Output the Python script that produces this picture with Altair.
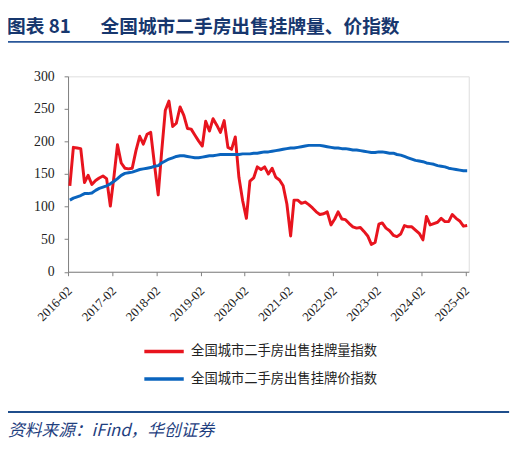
import altair as alt
import pandas as pd

# ---- data ----
months = pd.date_range("2016-02-01", "2025-02-01", freq="MS")
dates = [(d + pd.Timedelta(days=15)).strftime("%Y-%m-%d") for d in months]

volume_index = [
    132, 191, 190, 189, 137, 148, 134, 140, 144, 147,
    143, 101, 148, 195, 167, 159, 158, 159, 186, 208,
    196, 211, 214, 165, 118, 183, 248, 262, 223, 228,
    253, 240, 220, 219, 210, 201, 193, 231, 216, 235,
    225, 214, 232, 191, 188, 207, 145, 109, 82, 139,
    144, 161, 157, 161, 150, 159, 145, 141, 132, 104,
    55, 110, 110, 105, 107, 103, 98, 92, 88, 89,
    92, 72, 81, 92, 81, 80, 74, 69, 67, 68,
    62, 55, 42, 45, 73, 75, 67, 63, 56, 54,
    58, 71, 69, 69, 64, 59, 49, 85, 72, 74,
    76, 82, 77, 77, 88, 82, 78, 70, 71,
]
price_index = [
    110, 113, 115, 117, 120, 120, 121, 125, 128, 130,
    132, 135, 139, 143, 148, 151, 152, 153, 155, 157,
    158, 159, 160, 162, 163, 167, 170, 173, 175, 177,
    178, 178, 177, 176, 175, 175, 176, 177, 178, 178,
    179, 180, 180, 180, 180, 180, 180, 181, 181, 181,
    182, 182, 183, 184, 184, 185, 186, 187, 188, 189,
    190, 190, 191, 192, 193, 194, 194, 194, 194, 193,
    192, 191, 190, 190, 189, 189, 188, 187, 187, 186,
    185, 184, 183, 183, 184, 184, 183, 182, 182, 180,
    179, 177, 175, 173, 171, 170, 169, 167, 166, 165,
    163, 162, 161, 159, 158, 157, 156, 155, 155,
]
series_names = ["全国城市二手房出售挂牌量指数", "全国城市二手房出售挂牌价指数"]
series_colors = ["#E8141E", "#0A64BE"]
tick_years = list(range(2016, 2026))
y_ticks = [0, 50, 100, 150, 200, 250, 300]

title_label = "图表 81"
title_text = "全国城市二手房出售挂牌量、价指数"
source_text = "资料来源：iFind，华创证券"

df = pd.DataFrame({
    "date": dates * 2,
    "value": volume_index + price_index,
    "series": [series_names[0]] * len(dates) + [series_names[1]] * len(dates),
})

NUM_FONT = "Liberation Serif"
CJK_FONT = "Noto Sans CJK SC"
NAVY = "#17376E"
AXIS_GRAY = "#7F7F7F"

lines = alt.Chart(df).mark_line(strokeWidth=3, strokeJoin="round").encode(
    x=alt.X(
        "date:T",
        title=None,
        scale=alt.Scale(
            type="utc",
            domain=[alt.DateTime(year=2016, month=2, date=1, utc=True),
                    alt.DateTime(year=2025, month=3, date=1, utc=True)],
        ),
        axis=alt.Axis(
            values=[alt.DateTime(year=y, month=2, date=1, utc=True) for y in tick_years],
            format="%Y-%m",
            labelAngle=315,
            labelAlign="right",
            labelBaseline="middle",
            labelPadding=13,
            labelOffset=1.5,
            labelFont=NUM_FONT,
            labelFontSize=13,
            labelColor="#222222",
            tickSize=4,
            tickColor=AXIS_GRAY,
            domainColor=AXIS_GRAY,
            grid=False,
            labelOverlap=False,
        ),
    ),
    y=alt.Y(
        "value:Q",
        title=None,
        scale=alt.Scale(domain=[0, 300], nice=False),
        axis=alt.Axis(
            values=y_ticks,
            labelFont=NUM_FONT,
            labelFontSize=14,
            labelColor="#222222",
            labelPadding=10,
            tickSize=4,
            tickColor=AXIS_GRAY,
            domainColor=AXIS_GRAY,
            grid=False,
        ),
    ),
    color=alt.Color(
        "series:N",
        scale=alt.Scale(domain=series_names, range=series_colors),
        sort=series_names,
        legend=alt.Legend(
            title=None,
            orient="none",
            legendX=89,
            legendY=271,
            direction="vertical",
            symbolType="M-3,0H3",
            symbolSize=178,
            symbolStrokeWidth=3.5,
            labelOffset=19,
            labelFont=CJK_FONT,
            labelFontSize=13.5,
            labelColor="#222222",
            labelLimit=0,
            rowPadding=12,
            padding=0,
        ),
    ),
)

one = pd.DataFrame({"k": [0]})

title_rule = alt.Chart(one).mark_rule(color="#2A579A", strokeWidth=2).encode(
    x=alt.value(-64), x2=alt.value(448), y=alt.value(-35)
)
source_rule = alt.Chart(one).mark_rule(color="#1F4E8C", strokeWidth=2).encode(
    x=alt.value(-64), x2=alt.value(448), y=alt.value(341)
)
title_a = alt.Chart(pd.DataFrame({"t": [title_label]})).mark_text(
    align="left", baseline="alphabetic", font=CJK_FONT, fontSize=19,
    fontWeight="bold", color=NAVY
).encode(x=alt.value(-62), y=alt.value(-44), text="t:N")
title_b = alt.Chart(pd.DataFrame({"t": [title_text]})).mark_text(
    align="left", baseline="alphabetic", font=CJK_FONT, fontSize=19,
    fontWeight="bold", color=NAVY
).encode(x=alt.value(33), y=alt.value(-44), text="t:N")
source = alt.Chart(pd.DataFrame({"t": [source_text]})).mark_text(
    align="left", baseline="alphabetic", font=CJK_FONT, fontSize=17,
    fontStyle="italic", color="#1F3F7F"
).encode(x=alt.value(-61), y=alt.value(365), text="t:N")

chart = alt.layer(lines, title_rule, source_rule, title_a, title_b, source).properties(
    width=407,
    height=198.5,
    autosize=alt.AutoSizeParams(type="none"),
    padding={"left": 61, "top": 66, "right": 48, "bottom": 170},
).configure_view(stroke=None).configure(background="white")

chart.save("out.html", embed_options={"renderer": "svg", "actions": False})
